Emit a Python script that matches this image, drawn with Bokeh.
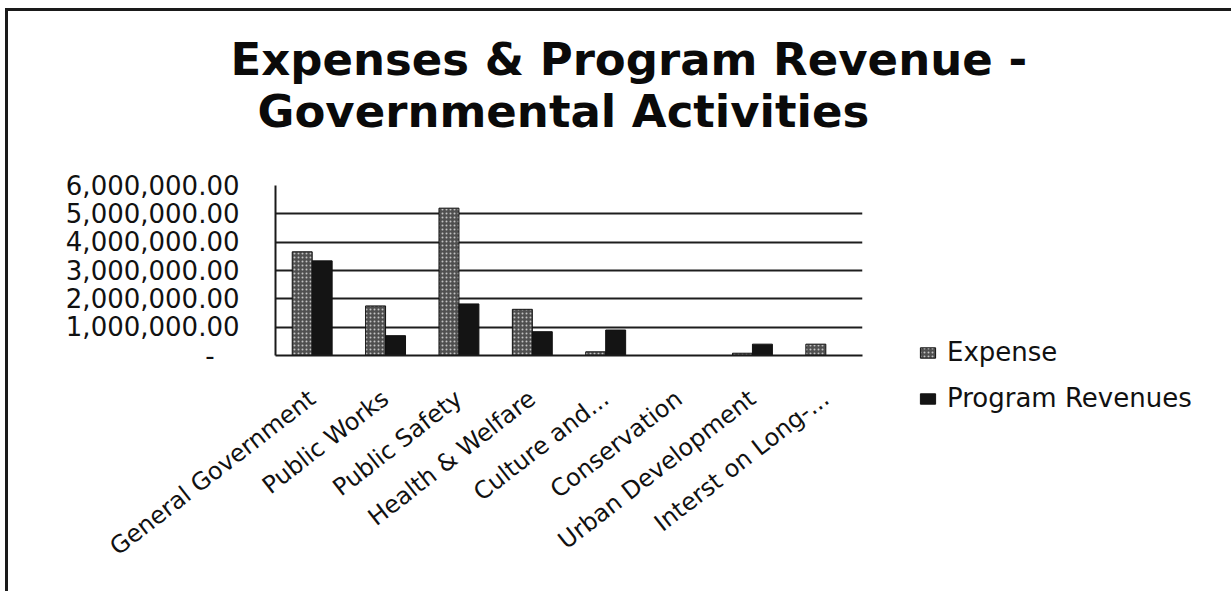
from bokeh.plotting import figure
from bokeh.models import (ColumnDataSource, FactorRange, Range1d, FixedTicker,
                          CustomJSTickFormatter, Legend, LegendItem, Title)
from bokeh.transform import dodge
from bokeh.embed import file_html
from bokeh.resources import INLINE

# ---------------- data ----------------
categories = ["General Government", "Public Works", "Public Safety",
              "Health & Welfare", "Culture and...", "Conservation",
              "Urban Development", "Interst on Long-..."]
expense = [3660000, 1750000, 5200000, 1630000, 130000, 0, 80000, 400000]
program_revenues = [3340000, 700000, 1820000, 840000, 900000, 0, 400000, 0]
y_ticks = [0, 1000000, 2000000, 3000000, 4000000, 5000000, 6000000]
series_names = ["Expense", "Program Revenues"]
title_lines = ["Expenses & Program Revenue -", "Governmental Activities"]

src = ColumnDataSource(dict(cat=categories, expense=expense, revenue=program_revenues))

FL, FR, FT, FB = 267, 854, 174, 344   # frame edges on the canvas
H = 580
p = figure(x_range=FactorRange(factors=categories), y_range=Range1d(0, 6000000),
           frame_width=FR - FL, frame_height=FB - FT,
           output_backend="svg", toolbar_location=None,
           min_border_left=FL, min_border_right=0,
           min_border_top=FT, min_border_bottom=H - FB)
p.styles = {"margin-left": "5px", "margin-top": "8px",
            "border-top": "3px solid #1a1a1a", "border-left": "3px solid #1a1a1a"}
p.background_fill_color = "white"
p.border_fill_color = "white"
p.outline_line_color = None

BW = 0.272
r_exp = p.vbar(x=dodge("cat", -BW / 2, range=p.x_range), top="expense", width=BW,
               source=src, fill_color="#4f4f4f", line_color="#111111", line_width=1,
               hatch_pattern=".", hatch_color="#c4c4c4", hatch_scale=4, hatch_weight=1)
r_rev = p.vbar(x=dodge("cat", BW / 2, range=p.x_range), top="revenue", width=BW,
               source=src, fill_color="#141414", line_color="#111111", line_width=1)

# grid / axes
p.xgrid.grid_line_color = None
p.ygrid.grid_line_color = "#1e1e1e"
p.ygrid.grid_line_width = 1.8

p.yaxis.ticker = FixedTicker(ticks=y_ticks)
p.yaxis.formatter = CustomJSTickFormatter(code="""
if (tick == 0) { return "-\\u00a0\\u00a0\\u00a0"; }
return tick.toLocaleString('en-US', {minimumFractionDigits: 2, maximumFractionDigits: 2});
""")
for ax in (p.xaxis, p.yaxis):
    ax.axis_line_color = "#1a1a1a"
    ax.axis_line_width = 2
    ax.major_tick_out = 0
    ax.major_tick_in = 0
    ax.minor_tick_out = 0
    ax.minor_tick_in = 0
    ax.major_label_text_color = "#111111"
    ax.major_label_text_font = "DejaVu Sans"

p.yaxis.major_label_text_font_size = "26px"
p.yaxis.major_label_standoff = 36
p.xaxis.major_label_text_font_size = "24px"
p.xaxis.major_label_orientation = 0.66
p.xaxis.major_label_standoff = 40

# legend (outside, right of the plot area)
legend = Legend(items=[LegendItem(label=series_names[0], renderers=[r_exp]),
                       LegendItem(label=series_names[1], renderers=[r_rev])],
                location=(56, -58), orientation="vertical",
                glyph_width=19, glyph_height=13, label_standoff=10,
                spacing=16, padding=0, margin=0,
                border_line_color=None, background_fill_alpha=0,
                label_text_font="DejaVu Sans", label_text_font_size="26px",
                label_text_color="#111111")
p.add_layout(legend, "right")

# top panel, stacked upward from the plot: gap, second title line, first line
p.add_layout(Title(text=" ", text_font_size="2px", standoff=44), "above")
p.add_layout(Title(text=title_lines[1], align="left", offset=-18, standoff=0,
                   text_font="DejaVu Sans", text_font_style="bold",
                   text_font_size="45px", text_color="#0a0a0a"), "above")
p.add_layout(Title(text=title_lines[0], align="left", offset=-45, standoff=-6,
                   text_font="DejaVu Sans", text_font_style="bold",
                   text_font_size="45px", text_color="#0a0a0a"), "above")

open("out.html", "w").write(file_html(p, INLINE))
